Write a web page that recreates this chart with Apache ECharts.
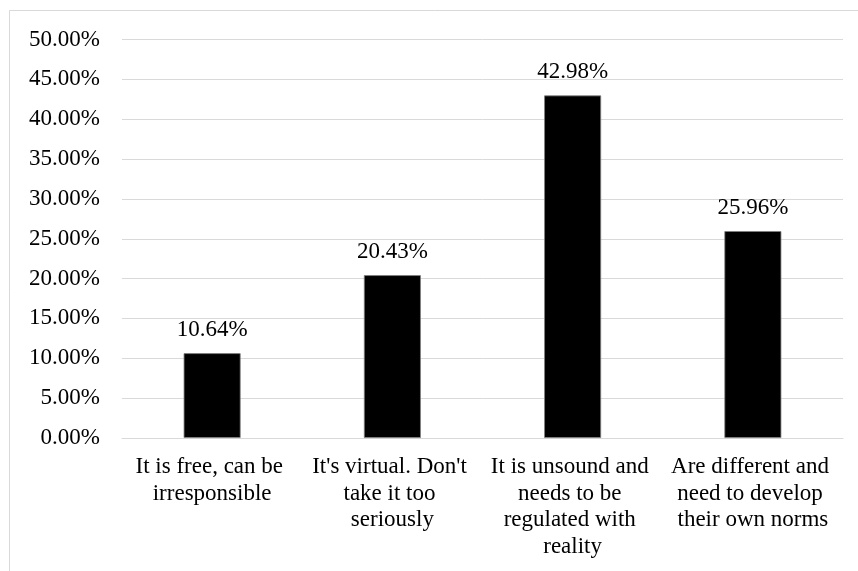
<!DOCTYPE html>
<html>
<head>
<meta charset="utf-8">
<style>
  html, body { margin: 0; padding: 0; background: #ffffff; }
  #chart { width: 858px; height: 571px; }
</style>
<script src="https://cdn.jsdelivr.net/npm/echarts@6/dist/echarts.min.js"></script>
</head>
<body>
<div id="chart"></div>
<script>
// Survey answers and their share of respondents (percent)
const categories = [
  "It is free, can be irresponsible",
  "It's virtual. Don't take it too seriously",
  "It is unsound and needs to be regulated with reality",
  "Are different and need to develop their own norms"
];
const shares = [10.64, 20.43, 42.98, 25.96];
const yMin = 0;
const yMax = 50;
const yStep = 5;

const FONT = "'Liberation Serif', 'Times New Roman', serif";
const FS = 23;

const chart = echarts.init(document.getElementById('chart'), null, { renderer: 'canvas' });

chart.setOption({
  backgroundColor: '#ffffff',
  animation: false,
  graphic: [{
    type: 'rect',
    shape: { x: 9.5, y: 10.5, width: 900, height: 600 },
    style: { fill: 'none', stroke: '#d9d9d9', lineWidth: 1 },
    silent: true
  }],
  grid: { left: 122, right: 15, top: 39.5, bottom: 133, containLabel: false },
  xAxis: {
    type: 'category',
    data: categories,
    axisLine: { show: true, lineStyle: { color: '#d9d9d9', width: 1 } },
    axisTick: { show: false },
    axisLabel: {
      interval: 0,
      margin: 16,
      color: '#000000',
      fontFamily: FONT,
      fontSize: FS,
      lineHeight: 26.5,
      width: 175,
      overflow: 'break',
      align: 'center'
    }
  },
  yAxis: {
    type: 'value',
    min: yMin,
    max: yMax,
    interval: yStep,
    axisLine: { show: false },
    axisTick: { show: false },
    splitLine: { show: true, lineStyle: { color: '#d9d9d9', width: 1 } },
    axisLabel: {
      margin: 22,
      color: '#000000',
      fontFamily: FONT,
      fontSize: FS,
      formatter: v => v.toFixed(2) + '%'
    }
  },
  series: [{
    type: 'bar',
    data: shares,
    barWidth: '31.6%',
    itemStyle: { color: '#000000', borderColor: '#7f7f7f', borderWidth: 0.8 },
    label: {
      show: true,
      position: 'top',
      distance: 12,
      color: '#000000',
      fontFamily: FONT,
      fontSize: FS,
      formatter: p => p.value.toFixed(2) + '%'
    }
  }]
});
</script>
</body>
</html>
